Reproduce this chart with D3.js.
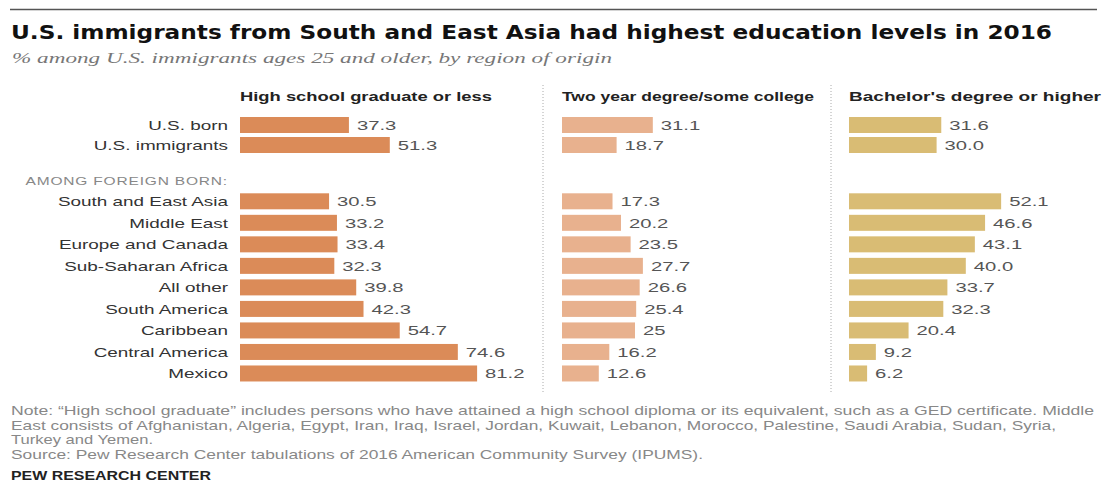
<!DOCTYPE html>
<html>
<head>
<meta charset="utf-8">
<script src="https://cdn.jsdelivr.net/npm/d3@7"></script>
<style>
  body { margin: 0; background: #fff; }
  svg { display: block; }
</style>
</head>
<body>
<div id="app"></div>
<script>
// rows
const topRows = ["U.S. born", "U.S. immigrants"];
const foreignRows = ["South and East Asia", "Middle East", "Europe and Canada", "Sub-Saharan Africa",
  "All other", "South America", "Caribbean", "Central America", "Mexico"];

// series values, same order as topRows then foreignRows
const highSchool = [37.3, 51.3, 30.5, 33.2, 33.4, 32.3, 39.8, 42.3, 54.7, 74.6, 81.2];
const twoYear = [31.1, 18.7, 17.3, 20.2, 23.5, 27.7, 26.6, 25.4, 25, 16.2, 12.6];
const bachelor = [31.6, 30.0, 52.1, 46.6, 43.1, 40.0, 33.7, 32.3, 20.4, 9.2, 6.2];

// value labels as printed
const highSchoolLabels = ["37.3", "51.3", "30.5", "33.2", "33.4", "32.3", "39.8", "42.3", "54.7", "74.6", "81.2"];
const twoYearLabels = ["31.1", "18.7", "17.3", "20.2", "23.5", "27.7", "26.6", "25.4", "25", "16.2", "12.6"];
const bachelorLabels = ["31.6", "30.0", "52.1", "46.6", "43.1", "40.0", "33.7", "32.3", "20.4", "9.2", "6.2"];

const panelTitles = ["High school graduate or less", "Two year degree/some college", "Bachelor's degree or higher"];

const width = 1107, height = 484;
const sans = "'Liberation Sans', Arial, sans-serif";
const narrow = "'Liberation Sans Narrow', 'Liberation Sans', Arial, sans-serif";

const svg = d3.select("#app").append("svg")
    .attr("width", width)
    .attr("height", height)
    .style("font-family", sans);

// the original graphic is stretched wide, so text gets a horizontal scale
const place = (x, y, sx) => `translate(${x},${y}) scale(${sx},1)`;

// top rule
svg.append("line")
    .attr("x1", 10).attr("x2", 1097)
    .attr("y1", 9.5).attr("y2", 9.5)
    .attr("stroke", "#555").attr("stroke-width", 1.5);

svg.append("text")
    .attr("x", 11).attr("y", 39)
    .attr("font-size", 20).attr("font-weight", "bold")
    .style("font-family", "'DejaVu Sans', sans-serif")
    .attr("fill", "#111")
    .attr("textLength", 1041).attr("lengthAdjust", "spacingAndGlyphs")
    .text("U.S. immigrants from South and East Asia had highest education levels in 2016");

svg.append("text")
    .attr("x", 12).attr("y", 63)
    .style("font-family", "'Liberation Serif', 'DejaVu Serif', serif")
    .style("font-style", "italic")
    .attr("font-size", 15)
    .attr("fill", "#777")
    .attr("textLength", 600).attr("lengthAdjust", "spacingAndGlyphs")
    .text("% among U.S. immigrants ages 25 and older, by region of origin");

// y scales
const yTop = d3.scaleBand().domain(topRows).range([113, 157]).padding(0.2);
const yForeign = d3.scaleBand().domain(foreignRows).range([189, 387]).padding(0.2);
const allRows = topRows.concat(foreignRows);
const yCenter = name => (topRows.includes(name) ? yTop(name) : yForeign(name)) + yTop.bandwidth() / 2;
const bandH = yTop.bandwidth();

// row labels
svg.append("g").selectAll("text")
    .data(allRows)
    .join("text")
    .attr("transform", d => place(228, yCenter(d), 1.4))
    .attr("dy", "0.36em")
    .attr("text-anchor", "end")
    .attr("font-size", 13.5)
    .attr("fill", "#333")
    .text(d => d);

svg.append("text")
    .attr("transform", place(228, 181, 1.35))
    .attr("dy", "0.36em")
    .attr("text-anchor", "end")
    .attr("font-size", 11.5)
    .attr("letter-spacing", 0.6)
    .attr("fill", "#888")
    .text("AMONG FOREIGN BORN:");

const panels = [
  { x0: 240, values: highSchool, labels: highSchoolLabels, color: "#db8b58" },
  { x0: 562, values: twoYear, labels: twoYearLabels, color: "#e8b18e" },
  { x0: 849, values: bachelor, labels: bachelorLabels, color: "#d9bc74" }
];

panels.forEach((p, i) => {
  const x = d3.scaleLinear().domain([0, 100]).range([p.x0, p.x0 + 292]);
  const g = svg.append("g");

  g.append("text")
      .attr("x", p.x0).attr("y", 101)
      .attr("font-size", 13.5).attr("font-weight", "bold")
      .attr("fill", "#222")
      .attr("textLength", 252).attr("lengthAdjust", "spacingAndGlyphs")
      .text(panelTitles[i]);

  g.selectAll("rect")
      .data(allRows)
      .join("rect")
      .attr("x", x(0))
      .attr("y", d => yCenter(d) - bandH / 2)
      .attr("height", bandH)
      .attr("width", (d, j) => x(p.values[j]) - x(0))
      .attr("fill", p.color);

  g.selectAll("text.val")
      .data(allRows)
      .join("text")
      .attr("class", "val")
      .attr("transform", (d, j) => place(x(p.values[j]) + 8, yCenter(d), 1.5))
      .attr("dy", "0.36em")
      .attr("font-size", 13.5)
      .attr("fill", "#555")
      .text((d, j) => p.labels[j]);
});

// dotted separators
[543, 831].forEach(sx => {
  svg.append("line")
      .attr("x1", sx).attr("x2", sx)
      .attr("y1", 85).attr("y2", 392)
      .attr("stroke", "#aaa")
      .attr("stroke-width", 1)
      .attr("stroke-dasharray", "1,2");
});

// notes
const notes = [
  "Note: \u201cHigh school graduate\u201d includes persons who have attained a high school diploma or its equivalent, such as a GED certificate. Middle",
  "East consists of Afghanistan, Algeria, Egypt, Iran, Iraq, Israel, Jordan, Kuwait, Lebanon, Morocco, Palestine, Saudi Arabia, Sudan, Syria,",
  "Turkey and Yemen.",
  "Source: Pew Research Center tabulations of 2016 American Community Survey (IPUMS)."
];
const noteLengths = [1083, 1045, 142, 692];

svg.append("g").selectAll("text")
    .data(notes)
    .join("text")
    .attr("x", 11)
    .attr("y", (d, i) => 415 + i * 14.5)
    .style("font-family", narrow)
    .attr("font-size", 13.5)
    .attr("fill", "#888")
    .attr("textLength", (d, i) => noteLengths[i])
    .attr("lengthAdjust", "spacingAndGlyphs")
    .text(d => d);

svg.append("text")
    .attr("x", 11).attr("y", 480)
    .style("font-family", narrow)
    .attr("font-size", 12.5).attr("font-weight", "bold")
    .attr("fill", "#222")
    .attr("textLength", 200).attr("lengthAdjust", "spacingAndGlyphs")
    .text("PEW RESEARCH CENTER");
</script>
</body>
</html>
